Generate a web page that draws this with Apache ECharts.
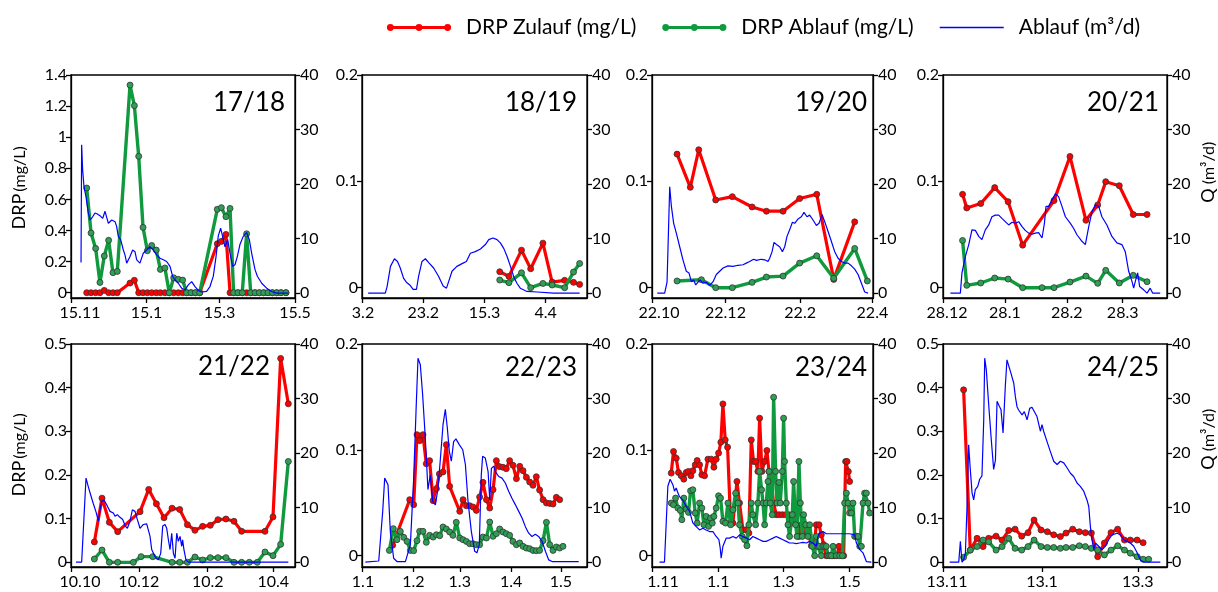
<!DOCTYPE html>
<html><head><meta charset="utf-8">
<script src="https://cdn.jsdelivr.net/npm/echarts/dist/echarts.min.js"></script>
<style>html,body{margin:0;padding:0;background:#fff}#c{width:1218px;height:592px}</style>
</head><body><div id="c"></div>
<script>
// ---------------- DATA (x = days since the first axis tick of each season) ----------------
const SERIES_NAMES = ['DRP Zulauf (mg/L)', 'DRP Ablauf (mg/L)', 'Ablauf (m³/d)'];
const SEASONS = ['17/18', '18/19', '19/20', '20/21', '21/22', '22/23', '23/24', '24/25'];
const X_TICK_DAYS = [[0,61,120,181],[0,20,40,60],[0,61,123,183],[0,31,62,90],[0,61,123,182],[0,31,59,90,120],[0,61,121,182],[0,61,120]];
const X_TICK_LABELS = [['15.11','15.1','15.3','15.5'],['3.2','23.2','15.3','4.4'],['22.10','22.12','22.2','22.4'],['28.12','28.1','28.2','28.3'],['10.10','10.12','10.2','10.4'],['1.1','1.2','1.3','1.4','1.5'],['1.11','1.1','1.3','1.5'],['13.11','13.1','13.3']];
const DRP_TICKS = [[0,0.2,0.4,0.6,0.8,1,1.2,1.4],[0,0.1,0.2],[0,0.1,0.2],[0,0.1,0.2],[0,0.1,0.2,0.3,0.4,0.5],[0,0.1,0.2],[0,0.1,0.2],[0,0.1,0.2,0.3,0.4,0.5]];
const Q_TICKS = [0,10,20,30,40];

// 17/18
const P1_DRP_DAYS = [12.7,16.2,19.9,23.4,26.9,30.4,33.9,37.4,47.7,51.2,54.7,58.2,61.7,65.2,68.9,72.2,75.9,79.4,83.0,86.7,90.2,93.5,97.0,100.5,104.0,118.2,121.5,125.2,128.5,131.4,134.9,138.4,141.9,145.2,148.7,152.2,155.7,159.2,162.7,166.2,169.7,173.7];
const P1_ZULAUF = [0,0,0,0,0.015,0,0,0,0.062,0.08,0,0,0,0,0,0,0,0,0,0,0,0,0,0,0,0.315,0.33,0.375,0,0,0,0,0,0,0,0,0,0,0,0,0,0];
const P1_ABLAUF = [0.673,0.384,0.285,0.066,0.236,0.337,0.129,0.137,1.335,1.203,0.877,0.42,0.27,0.304,0.274,0.15,0.159,0,0.096,0.086,0.081,0,0,0,0,0.536,0.547,0.489,0.542,0,0,0,0.379,0,0,0,0,0,0,0,0,0];
const P1_Q_DAYS = [8.1,8.6,9.4,10.5,12.1,14.0,15.4,17.5,19.4,21.3,23.4,25.6,27.5,28.8,30.2,32.9,35.6,36.9,38.2,40.1,42.3,43.6,45.0,47.7,49.8,51.7,53.1,55.7,58.4,61.1,63.8,66.5,69.2,71.9,74.6,77.3,80.0,82.1,84.0,86.7,89.4,92.1,94.8,97.5,100.2,102.9,105.6,109.6,112.3,115.0,117.2,119.0,120.9,122.5,124.4,126.6,128.5,130.6,132.5,134.4,136.5,139.2,141.9,144.1,146.0,148.7,150.6,154.1,158.1,162.1,166.2,175.6];
const P1_Q = [5.6,27.2,22.6,19.5,17.7,14.7,13.4,14.0,14.7,14.5,14.2,13.7,15.0,15.3,12.8,13.4,13.1,12.2,10.4,9.8,7.9,7.0,5.5,6.7,7.9,7.6,6.1,5.5,7.3,7.9,8.5,7.9,7.0,6.4,6.1,5.8,4.9,3.1,2.4,1.8,0.9,0.6,1.5,2.1,1.2,0.5,0.2,0.3,1.2,3.1,6.7,10.5,11.9,10.4,8.5,9.8,7.3,4.9,5.2,6.7,8.9,10.4,11.1,9.8,7.3,4.3,3.1,1.8,0.9,0.3,0,0];

// 18/19
const P2_DRP_DAYS = [45.0,48.0,52.1,55.1,59.1,62.1,66.2,69.1,71.1];
const P2_ZULAUF = [0.015,0.0106,0.0353,0.0178,0.0419,0.0053,0.0069,0.005,0.0031];
const P2_ABLAUF = [0.0072,0.0047,0.014,0,0.004,0.0025,0,0.0147,0.0228];
const P2_Q_DAYS = [2.0,7.6,8.2,9.3,10.6,11.6,12.5,13.6,14.5,15.6,16.7,17.8,18.5,19.6,20.7,21.8,23.4,25.0,26.5,27.6,28.3,29.4,31.0,32.7,34.1,35.4,37.0,38.7,40.3,41.4,42.8,44.1,45.2,46.3,47.4,48.5,49.5,50.6,51.7,53.9,57.2,62.6,71.1];
const P2_Q = [0,0,1.2,4.9,6.3,5.8,4.6,2.7,2.0,1.5,0.7,0.7,3.1,5.8,6.3,5.6,4.6,3.1,1.3,0.9,2.1,4.0,4.9,5.4,5.8,7.3,7.6,8.1,8.9,9.8,10.1,9.8,9.2,8.2,6.7,4.9,3.1,1.8,0.9,0.3,0.2,0,0];

// 19/20
const P3_Z_DAYS = [20.8,31.8,38.8,52.9,66.7,83.1,95.0,108.8,122.6,136.8,150.9,168.3];
const P3_ZULAUF = [0.1256,0.0944,0.1297,0.0825,0.0856,0.0759,0.0719,0.0719,0.0838,0.0878,0.0078,0.0619];
const P3_A_DAYS = [20.8,41.0,52.9,66.7,83.1,95.0,108.8,122.6,136.8,150.9,168.3,178.8];
const P3_ABLAUF = [0.0063,0.0075,0,0,0.005,0.01,0.0109,0.0231,0.03,0.0088,0.0369,0.0063];
const P3_Q_DAYS = [4.4,10.5,12.5,14.7,16.1,18.0,20.2,23.0,25.7,28.5,30.7,32.7,34.6,36.3,38.2,40.1,42.4,45.1,47.9,50.7,53.4,56.2,59.0,63.1,67.3,71.4,75.6,78.3,81.1,84.4,86.7,90.8,93.6,96.3,97.7,99.7,101.3,103.3,106.0,108.3,110.2,112.1,114.3,116.6,118.5,121.3,124.0,126.2,128.7,130.9,133.7,136.5,138.7,141.2,143.4,146.2,148.9,151.7,154.5,157.3,160.0,162.8,165.6,168.3,171.1,173.9,176.6,179.4];
const P3_Q = [0,0,2.0,19.5,15.9,12.8,11.0,8.5,6.1,4.0,3.7,2.1,2.4,1.5,2.0,2.4,1.8,2.0,1.4,2.1,3.4,4.0,4.6,5.0,4.9,5.1,5.2,5.5,5.8,6.2,6.0,6.2,6.1,5.8,6.4,7.6,9.3,8.9,8.5,7.6,8.5,10.4,11.6,13.0,12.8,13.6,14.0,14.8,14.0,14.3,13.4,12.4,12.8,14.4,13.1,11.3,9.5,7.6,6.4,5.8,5.5,5.5,5.0,4.4,3.4,1.8,0.2,0];

// 20/21
const P4_Z_DAYS = [9.8,11.9,18.9,25.9,32.6,39.9,55.6,63.6,71.6,77.5,81.5,88.3,95.3,102.2];
const P4_ZULAUF = [0.0878,0.075,0.0791,0.0941,0.0809,0.04,0.0819,0.1234,0.0634,0.0778,0.0997,0.0959,0.0688,0.0688];
const P4_A_DAYS = [9.8,11.9,18.9,25.9,32.6,39.9,49.6,55.6,63.6,71.6,77.5,81.5,88.3,95.3,102.2];
const P4_ABLAUF = [0.0444,0.0022,0.0044,0.0091,0.0081,0,0,0,0.0053,0.0109,0.0041,0.0163,0.0044,0.0116,0.0056];
const P4_Q_DAYS = [3.7,8.7,9.5,11.2,12.9,14.5,16.2,17.9,19.5,21.2,22.9,24.5,26.2,27.9,29.5,31.2,32.9,34.6,36.2,37.9,39.6,41.2,42.9,44.6,46.2,47.9,49.6,50.8,51.6,52.9,54.6,56.3,57.9,59.6,61.3,63.8,65.4,67.1,69.6,71.3,73.0,74.6,76.3,78.0,79.6,82.1,84.6,87.1,89.6,91.3,93.0,94.7,95.5,96.3,97.5,98.5,100.5,102.2,103.8,105.0,108.8];
const P4_Q = [0,0,3.7,6.7,8.9,11.6,11.5,10.4,9.8,11.6,12.5,14.0,14.3,14.3,13.7,13.1,12.5,13.0,12.8,13.1,12.2,11.5,11.0,10.8,11.0,11.1,10.1,12.8,15.9,15.9,17.1,18.2,17.7,15.9,14.0,12.8,11.9,10.7,9.5,8.9,12.2,14.9,16.2,15.9,14.0,12.5,10.4,9.2,8.9,7.6,4.0,2.1,0.9,2.1,3.7,1.2,0.6,0,0.9,0,0];

// 21/22
const P5_Z_DAYS = [21.0,27.9,34.5,42.0,62.1,69.9,76.8,83.7,90.9,97.8,104.7,111.5,118.4,125.3,132.2,139.4,146.6,153.5,174.5,181.7,188.6,195.5];
const P5_ZULAUF = [0.0466,0.147,0.0916,0.0702,0.116,0.167,0.134,0.102,0.124,0.121,0.0863,0.0733,0.0824,0.0847,0.0977,0.0992,0.0939,0.071,0.071,0.104,0.467,0.363];
const P5_A_DAYS = [21.0,27.9,34.5,42.0,56.1,63.0,73.5,90.9,97.8,104.7,111.5,118.4,125.3,132.2,139.4,146.6,153.5,160.4,167.6,174.5,181.7,188.6,195.5];
const P5_ABLAUF = [0.0076,0.0282,0,0,0,0.013,0.013,0,0,0,0.0122,0.0053,0.0107,0.0107,0.0107,0,0,0,0,0.0237,0.0153,0.0412,0.231];
const P5_Q_DAYS = [4.5,9.6,13.5,15.6,17.7,20.1,22.5,24.6,26.1,27.6,29.7,32.1,35.1,38.1,39.6,41.7,43.5,45.0,46.5,48.6,50.7,53.1,55.2,57.6,59.7,62.1,63.6,65.1,68.1,69.6,71.1,72.6,75.6,78.6,80.7,82.5,84.6,86.1,87.6,89.1,90.6,92.1,93.6,95.1,96.6,98.1,99.6,100.4,101.6,103.4,105.5,195.5];
const P5_Q = [0,0,15.4,13.8,12.3,10.7,9.2,7.5,9.6,11.1,11.4,10.5,9.3,9.0,8.4,8.7,8.3,8.4,7.8,6.7,6.2,7.5,9.6,9.3,7.8,6.2,6.5,6.9,7.0,7.0,4.7,2.3,1.0,0.4,1.6,6.6,6.9,6.2,4.1,2.3,5.3,1.6,0.7,5.3,3.8,4.7,2.9,4.1,2.3,0.4,0,0];

// 22/23
const P6_Z_DAYS = [18.5,28.8,31.2,33.2,34.8,36.8,38.8,40.8,42.9,44.9,46.7,48.9,50.9,52.9,59.0,61.0,63.0,65.0,67.0,69.0,71.0,73.0,75.1,77.1,79.1,81.1,83.1,85.1,87.1,89.1,91.1,93.2,95.2,97.2,99.2,101.2,103.2,105.2,107.2,109.3,111.3,113.3,115.3,117.3,119.3];
const P6_ZULAUF = [0.0098,0.0529,0.0482,0.1143,0.1087,0.1143,0.0869,0.0898,0.052,0.0633,0.0772,0.0791,0.1049,0.0655,0.0419,0.0529,0.0472,0.0472,0.046,0.0428,0.0554,0.0693,0.0529,0.045,0.0624,0.0898,0.0841,0.0835,0.0822,0.0898,0.0854,0.0728,0.0844,0.0803,0.074,0.0696,0.0665,0.0746,0.062,0.0529,0.0498,0.0494,0.0488,0.0551,0.0529];
const P6_A_DAYS = [16.5,18.9,21.1,23.1,25.2,27.2,29.2,31.2,33.2,34.8,36.8,38.8,40.8,42.9,44.9,46.9,48.9,50.9,52.9,54.9,56.9,59.0,61.0,63.0,65.0,67.0,69.0,71.0,73.0,75.1,77.1,79.1,81.1,83.1,85.1,87.1,89.1,91.1,93.2,95.2,97.2,99.2,101.2,103.2,105.2,107.2,109.3,111.3,113.3,115.3,117.3,119.3,121.3];
const P6_ABLAUF = [0.005,0.0255,0.0151,0.023,0.0173,0.0135,0.005,0.0047,0.0142,0.023,0.023,0.0126,0.0192,0.0176,0.0198,0.0189,0.0271,0.0252,0.0224,0.0192,0.0315,0.0167,0.0151,0.0135,0.0113,0.0113,0.0104,0.0104,0.0176,0.0167,0.0318,0.0183,0.0208,0.0252,0.0224,0.0208,0.0192,0.0135,0.0104,0.012,0.0088,0.0072,0.0066,0.005,0.0047,0.005,0.0142,0.0315,0.0104,0.005,0.0082,0.0072,0.0088];
const P6_Q_DAYS = [2.0,10.1,12.5,13.7,14.5,15.7,17.1,19.1,21.1,26.2,29.2,31.2,32.6,33.8,35.2,36.6,38.2,39.8,41.2,42.7,44.3,45.9,47.5,48.9,50.3,51.5,52.7,53.9,55.3,56.7,58.8,60.8,62.4,64.0,66.0,68.0,69.4,70.8,72.0,72.8,74.4,76.1,77.1,78.1,79.5,80.5,82.5,84.5,86.5,88.5,90.5,92.6,94.6,96.6,98.6,100.6,102.6,104.6,106.6,108.7,110.7,112.7,114.7,130.8];
const P6_Q = [0,0.2,9.3,15.4,15.7,14.2,5.6,0.7,0.1,0.1,3.2,15.4,27.6,37.4,36.2,30.7,22.8,13.3,16.0,11.1,10.5,13.6,19.7,25.2,28.0,24.6,20.3,18.5,22.1,22.6,21.5,20.6,17.9,11.1,5.6,2.0,1.7,3.2,16.0,19.4,19.1,16.6,11.4,17.2,17.6,16.6,15.7,15.4,14.5,13.0,11.7,10.5,9.3,8.1,6.5,5.3,4.7,5.1,4.7,3.8,2.0,0.4,0.1,0.1];

// 23/24
const P7_Z_DAYS = [17.7,19.8,22.3,24.4,26.9,29.3,31.5,33.6,35.8,37.6,39.8,41.6,43.8,45.9,48.4,51.5,54.5,57.0,59.1,61.3,63.4,65.3,67.4,69.6,72.4,74.5,78.2,80.6,83.7,86.8,89.2,91.4,93.5,95.4,97.5,99.1,101.2,103.7,105.8,107.7,109.8,112.0,114.4,116.9,120.0,123.0,126.1,128.3,130.4,132.9,135.3,137.5,139.9,142.1,144.5,146.7,149.2,151.3,153.8,155.9,158.1,160.5,163.0,166.1,168.2,170.4,172.2,174.3,176.5,178.3,179.6,180.8,182.0];
const P7_ZULAUF = [0.078,0.0984,0.0921,0.0786,0.0755,0.0723,0.0786,0.0796,0.0755,0.0802,0.0858,0.0899,0.0858,0.0764,0.0755,0.0912,0.0912,0.0836,0.0912,0.0969,0.1072,0.1434,0.1094,0.1025,0.0314,0.0308,0.0701,0.0497,0.0245,0.0245,0.0214,0.1094,0.089,0.089,0.0796,0.1299,0.0796,0.089,0.0994,0.0796,0.0686,0.0497,0.0387,0.0387,0.0387,0.0387,0.0387,0.0308,0.0387,0.0387,0.0182,0.0292,0.0292,0.0198,0.0198,0.0094,0.0094,0.0292,0.0292,0.0198,0.0104,0,0,0,0,0,0.0088,0,0,0.089,0.089,0.0796,0.0701];
const P7_A_DAYS = [17.7,19.8,21.7,23.8,26.0,27.5,29.3,31.5,33.6,35.5,37.6,39.8,41.6,43.8,45.9,47.8,49.9,52.1,53.9,55.5,57.0,59.1,61.3,63.1,65.3,67.7,69.9,72.4,74.5,77.0,79.1,80.6,83.1,85.3,87.4,89.2,91.4,92.9,95.4,97.5,99.1,100.9,102.2,103.7,105.2,106.8,107.7,108.9,110.7,112.0,113.8,115.1,116.9,118.1,120.0,121.2,122.1,123.7,125.2,126.7,129.2,130.4,132.3,133.5,135.3,136.6,138.4,139.6,141.5,143.6,145.2,147.6,149.8,151.3,152.8,154.4,155.9,157.4,159.0,160.5,162.1,163.6,165.1,166.7,169.7,172.8,175.3,177.4,179.0,180.5,182.0,183.6,185.1,186.6,188.2,189.7,191.3,192.8,194.3,195.8,197.4,198.9,200.4];
const P7_ABLAUF = [0.0497,0.0481,0.0544,0.045,0.0428,0.034,0.0544,0.044,0.0409,0.0613,0.0623,0.0403,0.0308,0.0497,0.045,0.0292,0.0371,0.0277,0.0355,0.0308,0.0371,0.045,0.0566,0.0544,0.0324,0.0308,0.0497,0.0292,0.0434,0.0591,0.0497,0.0292,0.0182,0.0151,0.0094,0.0292,0.0497,0.0387,0.0292,0.0497,0.0796,0.0623,0.0497,0.0292,0.0497,0.0701,0.0796,0.0497,0.0387,0.1497,0.0796,0.0497,0.0692,0.0497,0.0796,0.1299,0.089,0.0497,0.0292,0.0182,0.0387,0.0701,0.0292,0.0182,0.089,0.0497,0.0182,0.0387,0.0292,0.0182,0.0292,0.0088,0,0.0182,0.0088,0.0088,0,0.0088,0.0088,0.0088,0,0,0,0.0088,0,0,0,0.0497,0.0591,0.0497,0.0403,0.0403,0.0497,0.0182,0.0182,0.0182,0.0088,0.0088,0.0497,0.0591,0.0591,0.0497,0.0403];
const P7_Q_DAYS = [6.9,11.5,13.1,14.6,16.7,19.2,20.7,22.3,23.8,25.3,28.4,31.5,34.6,37.6,40.7,43.8,46.9,49.9,53.0,56.1,59.1,61.6,62.8,63.7,65.3,68.4,71.4,74.5,77.6,80.6,83.7,86.8,89.9,92.9,96.0,99.1,102.2,105.2,108.3,111.4,114.4,117.5,120.6,123.7,126.7,129.8,132.9,135.9,139.0,142.1,145.2,148.2,151.3,152.8,154.4,157.4,160.5,169.7,182.0,186.6,188.2,191.3,194.3,197.4,202.0];
const P7_Q = [0,0,7.2,13.9,15.2,14.2,13.0,13.6,12.7,12.0,11.4,10.2,9.3,7.2,6.5,5.9,6.2,5.9,5.6,5.6,4.7,4.1,2.6,0.7,2.9,4.4,4.4,4.7,4.4,5.0,4.7,4.4,4.1,4.7,4.4,4.1,3.8,3.8,4.1,4.4,4.7,4.4,4.1,3.8,3.5,3.5,3.4,3.5,3.6,3.5,3.8,3.5,2.9,4.7,5.3,5.6,5.2,5.2,5.2,5.0,3.5,2.3,1.7,0.1,0];

// 24/25
const P8_Z_DAYS = [12.7,16.8,21.0,24.7,28.1,32.7,36.4,40.5,44.4,48.5,52.4,56.1,60.4,64.3,68.2,72.3,75.8,79.9,84.0,87.7,91.4,95.3,99.4,103.5,107.6,111.8,115.4,119.6,123.3];
const P8_ZULAUF = [0.395,0.028,0.055,0.036,0.055,0.060,0.051,0.073,0.076,0.060,0.068,0.097,0.074,0.070,0.063,0.059,0.067,0.076,0.070,0.068,0.067,0.013,0.044,0.068,0.076,0.051,0.051,0.051,0.045];
const P8_A_DAYS = [12.7,16.8,21.0,24.7,28.1,32.7,36.4,40.5,44.4,48.5,52.4,56.1,60.4,64.3,68.2,72.3,75.8,79.9,84.0,87.7,91.4,95.3,99.4,103.5,107.6,111.8,115.4,119.6,123.3,126.7];
const P8_ABLAUF = [0.0115,0.028,0.036,0.051,0.047,0.028,0.036,0.055,0.032,0.028,0.036,0.051,0.036,0.034,0.034,0.032,0.034,0.034,0.038,0.036,0.032,0.028,0.017,0.028,0.038,0.028,0.021,0.013,0.007,0.007];
const P8_Q_DAYS = [4.1,9.7,10.7,11.7,12.7,13.8,14.8,15.8,16.8,17.9,18.9,19.9,21.4,22.6,24.0,25.1,25.7,26.7,28.1,29.6,31.2,32.3,33.3,34.7,35.7,37.0,38.4,39.4,40.5,41.9,43.6,44.6,45.6,46.6,48.7,50.1,51.8,53.4,54.8,55.9,57.9,60.0,61.0,62.0,64.1,66.1,68.2,70.3,72.3,74.4,76.4,78.5,80.5,82.6,84.6,86.7,88.7,89.8,90.8,91.8,92.9,93.9,95.9,98.0,100.0,102.1,104.1,107.2,109.3,111.3,113.4,115.4,117.5,119.6,121.6,123.7,133.9];
const P8_Q = [0,0,3.8,0,0.4,1.7,10.2,21.5,17.0,12.7,11.4,13.3,13.9,15.2,15.8,26.1,37.4,35.2,29.1,23.0,17.0,18.7,29.5,28.6,28.0,23.7,32.3,37.1,36.8,34.6,32.8,30.3,28.5,27.9,27.0,27.6,26.1,28.2,28.4,28.2,26.7,24.0,25.2,24.0,22.1,20.3,18.5,17.9,18.5,18.2,17.3,16.3,15.7,14.5,13.9,13.0,11.4,10.2,6.5,4.1,2.3,3.5,2.9,2.3,2.9,4.1,5.0,5.3,5.0,4.1,3.8,3.5,2.9,1.7,0.4,0,0];

// ---------------- LAYOUT / STYLE ----------------
const LAYOUT = [
  {left:71, top:75, width:224, height:223},
  {left:362, top:75, width:225, height:223},
  {left:652, top:75, width:221, height:223},
  {left:943, top:75, width:224, height:223},
  {left:71, top:344, width:224, height:223},
  {left:362, top:344, width:225, height:223},
  {left:652, top:344, width:221, height:223},
  {left:943, top:344, width:224, height:223}
];
const X_MAX = [181, 73.5, 183.5, 112.2, 201.5, 135.8, 203.5, 138];
const FIRST_LABEL_SHIFT = [9, 1, 7, 4, 9, 1, 11, 4];
const DRP_MIN = [-0.034, -0.0097, -0.0097, -0.0097, -0.0107, -0.0107, -0.0107, -0.0107];
const DRP_MAX = [1.4, 0.2, 0.2, 0.2, 0.5, 0.2, 0.2, 0.5];
const Q_MIN = -0.9, Q_MAX = 40;
const TITLE_POS = [[285,103],[577,103],[867,103],[1159,103],[270,367],[577,368],[867,368],[1159,368]];

const PANELS = [
  [P1_DRP_DAYS, P1_ZULAUF, P1_DRP_DAYS, P1_ABLAUF, P1_Q_DAYS, P1_Q],
  [P2_DRP_DAYS, P2_ZULAUF, P2_DRP_DAYS, P2_ABLAUF, P2_Q_DAYS, P2_Q],
  [P3_Z_DAYS, P3_ZULAUF, P3_A_DAYS, P3_ABLAUF, P3_Q_DAYS, P3_Q],
  [P4_Z_DAYS, P4_ZULAUF, P4_A_DAYS, P4_ABLAUF, P4_Q_DAYS, P4_Q],
  [P5_Z_DAYS, P5_ZULAUF, P5_A_DAYS, P5_ABLAUF, P5_Q_DAYS, P5_Q],
  [P6_Z_DAYS, P6_ZULAUF, P6_A_DAYS, P6_ABLAUF, P6_Q_DAYS, P6_Q],
  [P7_Z_DAYS, P7_ZULAUF, P7_A_DAYS, P7_ABLAUF, P7_Q_DAYS, P7_Q],
  [P8_Z_DAYS, P8_ZULAUF, P8_A_DAYS, P8_ABLAUF, P8_Q_DAYS, P8_Q]
];

const FONT = 'Lato';
const RED = '#ff0000', GREEN = '#109a3e', BLUE = '#0000ff';
function zip(xs, ys) { return xs.map((x, i) => [x, ys[i]]); }
function nearestIndex(i, v) {
  const d = X_TICK_DAYS[i];
  let k = 0;
  for (let j = 1; j < d.length; j++) if (Math.abs(d[j] - v) < Math.abs(d[k] - v)) k = j;
  return k;
}
const axisLineStyle = {color:'#000', width:1.3};

const grids = [], xAxes = [], yAxes = [], series = [];
LAYOUT.forEach((g, i) => {
  grids.push(Object.assign({show:true, borderColor:'#000', borderWidth:1.3, containLabel:false}, g));
  xAxes.push({
    type:'value', gridIndex:i, min:0, max:X_MAX[i],
    axisLine:{show:true, onZero:false, lineStyle:axisLineStyle},
    axisTick:{show:true, customValues:X_TICK_DAYS[i], length:5, lineStyle:axisLineStyle},
    axisLabel:{
      customValues:X_TICK_DAYS[i],
      formatter:(v) => { const k = nearestIndex(i, v); const t = X_TICK_LABELS[i][k]; return k === 0 ? '{f|' + t + '}' : t; },
      rich:{f:{padding:[0, 0, 0, 2 * FIRST_LABEL_SHIFT[i]], fontSize:16, fontFamily:FONT, color:'#000'}},
      fontSize:16, color:'#000', fontFamily:FONT, margin:7
    },
    splitLine:{show:false}
  });
  yAxes.push({
    type:'value', gridIndex:i, position:'left', min:DRP_MIN[i], max:DRP_MAX[i],
    axisLine:{show:true, onZero:false, lineStyle:axisLineStyle},
    axisTick:{show:true, customValues:DRP_TICKS[i], length:5, lineStyle:axisLineStyle},
    axisLabel:{customValues:DRP_TICKS[i], formatter:(v) => String(Math.round(v * 1000) / 1000), fontSize:16, color:'#000', fontFamily:FONT, margin:4},
    splitLine:{show:false}
  });
  yAxes.push({
    type:'value', gridIndex:i, position:'right', min:Q_MIN, max:Q_MAX,
    axisLine:{show:true, onZero:false, lineStyle:axisLineStyle},
    axisTick:{show:true, customValues:Q_TICKS, length:5, lineStyle:axisLineStyle},
    axisLabel:{customValues:Q_TICKS, formatter:(v) => String(Math.round(v)), fontSize:16, color:'#000', fontFamily:FONT, margin:5},
    splitLine:{show:false}
  });
  const p = PANELS[i];
  series.push({
    name:SERIES_NAMES[0], type:'line', xAxisIndex:i, yAxisIndex:2 * i, data:zip(p[0], p[1]),
    symbol:'circle', symbolSize:6, showAllSymbol:true,
    lineStyle:{color:RED, width:3.2}, itemStyle:{color:RED, borderColor:'#333', borderWidth:0.8}, z:2
  });
  series.push({
    name:SERIES_NAMES[1], type:'line', xAxisIndex:i, yAxisIndex:2 * i, data:zip(p[2], p[3]),
    symbol:'circle', symbolSize:6, showAllSymbol:true,
    lineStyle:{color:GREEN, width:3.4}, itemStyle:{color:'#2f9f55', borderColor:'#333', borderWidth:0.8}, z:3
  });
  series.push({
    name:SERIES_NAMES[2], type:'line', xAxisIndex:i, yAxisIndex:2 * i + 1, data:zip(p[4], p[5]),
    symbol:'none', showSymbol:false,
    lineStyle:{color:BLUE, width:1.2}, itemStyle:{color:BLUE}, z:4
  });
});

const graphics = SEASONS.map((s, i) => ({
  type:'text', x:TITLE_POS[i][0], y:TITLE_POS[i][1], z:10,
  style:{text:s, fontSize:26, fontFamily:FONT, fill:'#000', align:'right', verticalAlign:'middle'}
}));
// rotated axis titles: big part at the bottom, small part above it (text reads bottom to top)
function axisName(x, yCenter, big, small, bigSize, smallSize, bigLen, smallLen) {
  const gap = 5, total = bigLen + gap + smallLen;
  const yBig = yCenter + total / 2 - bigLen / 2;
  const ySmall = yCenter - total / 2 + smallLen / 2;
  return [
    {type:'text', x:x, y:yBig, rotation:Math.PI / 2, z:10,
     style:{text:big, fontSize:bigSize, fontFamily:FONT, fill:'#000', align:'center', verticalAlign:'middle'}},
    {type:'text', x:x + 1, y:ySmall, rotation:Math.PI / 2, z:10,
     style:{text:small, fontSize:smallSize, fontFamily:FONT, fill:'#000', align:'center', verticalAlign:'middle'}}
  ];
}
graphics.push(...axisName(19, 188, 'DRP', '(mg/L)', 18, 16, 33, 42));
graphics.push(...axisName(19, 455, 'DRP', '(mg/L)', 18, 16, 33, 42));
graphics.push(...axisName(1208, 172, 'Q', '(m³/d)', 18, 16, 13, 42));
graphics.push(...axisName(1208, 439, 'Q', '(m³/d)', 18, 16, 13, 42));

// legend icons: a line with three dots (all sub-paths drawn in the same direction so they union)
const DOT_LINE_ICON = 'path://M0,-1.6H64V1.6H0Z' +
  'M0,0a3.4,3.4 0 1,1 6.8,0a3.4,3.4 0 1,1 -6.8,0Z' +
  'M28.6,0a3.4,3.4 0 1,1 6.8,0a3.4,3.4 0 1,1 -6.8,0Z' +
  'M57.2,0a3.4,3.4 0 1,1 6.8,0a3.4,3.4 0 1,1 -6.8,0Z';
const PLAIN_LINE_ICON = 'path://M0,-0.8H64V0.8H0Z';

const chart = echarts.init(document.getElementById('c'), null, {renderer:'canvas'});
chart.setOption({
  animation:false,
  backgroundColor:'#fff',
  textStyle:{fontFamily:FONT, color:'#000'},
  legend:{
    data:[
      {name:SERIES_NAMES[0], icon:DOT_LINE_ICON, itemStyle:{color:RED, borderWidth:0, borderColor:RED}},
      {name:SERIES_NAMES[1], icon:DOT_LINE_ICON, itemStyle:{color:GREEN, borderWidth:0, borderColor:GREEN}},
      {name:SERIES_NAMES[2], icon:PLAIN_LINE_ICON, itemStyle:{color:BLUE, borderWidth:0, borderColor:BLUE}}
    ],
    left:382, top:12, itemWidth:64, itemHeight:8, itemGap:26,
    itemStyle:{borderWidth:0},
    textStyle:{fontSize:21, color:'#000', fontFamily:FONT, padding:[0, 0, 0, 10]}
  },
  grid:grids, xAxis:xAxes, yAxis:yAxes, series:series, graphic:graphics
});
</script>
</body></html>
